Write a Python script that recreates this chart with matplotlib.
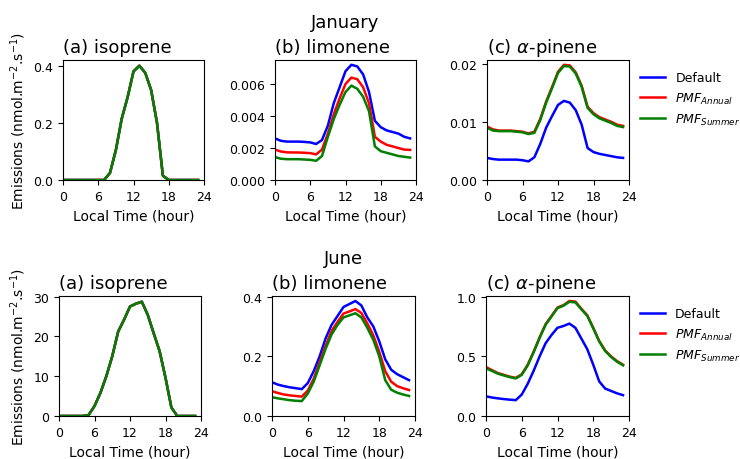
import numpy as np
import matplotlib
matplotlib.use('Agg')
import matplotlib.pyplot as plt

# Hora local (0..23)
hours = np.arange(24)

# ---------------- January ----------------
jan_iso = [0, 0, 0, 0, 0, 0, 0, 0, 0.025, 0.105, 0.215, 0.29, 0.38, 0.40,
           0.375, 0.315, 0.20, 0.015, 0, 0, 0, 0, 0, 0]

jan_lim_default = [0.0026, 0.00245, 0.0024, 0.0024, 0.0024, 0.00238, 0.00235, 0.00225,
                   0.0025, 0.0034, 0.0048, 0.0058, 0.0068, 0.0072, 0.0071, 0.0066,
                   0.0055, 0.0037, 0.0033, 0.0031, 0.0030, 0.0029, 0.0027, 0.0026]
jan_lim_annual = [0.0019, 0.00178, 0.00173, 0.00172, 0.00172, 0.0017, 0.00168, 0.0016,
                  0.0019, 0.0029, 0.0041, 0.0051, 0.0060, 0.0064, 0.0063, 0.0058,
                  0.0048, 0.0027, 0.0024, 0.0022, 0.0021, 0.0020, 0.0019, 0.00188]
jan_lim_summer = [0.00143, 0.00133, 0.0013, 0.0013, 0.0013, 0.00128, 0.00126, 0.0012,
                  0.0015, 0.0027, 0.0038, 0.0047, 0.0055, 0.0059, 0.0057, 0.0052,
                  0.0043, 0.0021, 0.0018, 0.0017, 0.0016, 0.0015, 0.00145, 0.0014]

jan_apin_default = [0.0038, 0.0036, 0.0035, 0.0035, 0.0035, 0.0035, 0.0034, 0.0032,
                    0.0039, 0.0062, 0.0090, 0.0110, 0.0129, 0.0136, 0.0133, 0.0120,
                    0.0095, 0.0055, 0.0048, 0.0045, 0.0043, 0.0041, 0.0039, 0.0038]
jan_apin_annual = [0.0092, 0.0087, 0.0085, 0.0085, 0.0085, 0.0084, 0.0083, 0.0080,
                   0.0083, 0.0105, 0.0135, 0.0160, 0.0186, 0.0198, 0.0197, 0.0185,
                   0.0162, 0.0126, 0.0115, 0.0108, 0.0104, 0.0100, 0.0095, 0.0093]
jan_apin_summer = [0.0090, 0.0085, 0.0084, 0.0084, 0.0084, 0.0083, 0.0082, 0.0079,
                   0.0081, 0.0103, 0.0133, 0.0158, 0.0184, 0.0196, 0.0195, 0.0183,
                   0.0160, 0.0124, 0.0113, 0.0106, 0.0102, 0.0098, 0.0093, 0.0091]

# ---------------- June ----------------
jun_iso = [0, 0, 0, 0, 0, 0.25, 2.5, 5.8, 10.0, 15.0, 21.2, 24.2, 27.5, 28.2,
           28.7, 25.4, 20.8, 16.3, 9.6, 2.1, 0, 0, 0, 0]

jun_lim_default = [0.113, 0.105, 0.10, 0.096, 0.093, 0.09, 0.11, 0.15, 0.20, 0.26,
                   0.305, 0.335, 0.365, 0.375, 0.385, 0.37, 0.33, 0.30, 0.25, 0.19,
                   0.155, 0.14, 0.13, 0.12]
jun_lim_annual = [0.083, 0.077, 0.072, 0.069, 0.067, 0.065, 0.085, 0.125, 0.18, 0.235,
                  0.285, 0.315, 0.343, 0.35, 0.358, 0.345, 0.31, 0.27, 0.215, 0.15,
                  0.115, 0.10, 0.093, 0.087]
jun_lim_summer = [0.063, 0.059, 0.056, 0.053, 0.051, 0.05, 0.075, 0.115, 0.17, 0.225,
                  0.273, 0.305, 0.33, 0.337, 0.344, 0.33, 0.295, 0.255, 0.20, 0.12,
                  0.088, 0.078, 0.072, 0.067]

jun_apin_default = [0.165, 0.155, 0.148, 0.142, 0.137, 0.133, 0.18, 0.27, 0.38, 0.50,
                    0.61, 0.68, 0.74, 0.755, 0.775, 0.74, 0.65, 0.56, 0.43, 0.29,
                    0.23, 0.21, 0.19, 0.175]
jun_apin_annual = [0.41, 0.385, 0.36, 0.345, 0.33, 0.32, 0.35, 0.43, 0.54, 0.66,
                   0.77, 0.84, 0.91, 0.93, 0.965, 0.96, 0.90, 0.845, 0.74, 0.63,
                   0.55, 0.50, 0.46, 0.43]
jun_apin_summer = [0.40, 0.378, 0.355, 0.34, 0.326, 0.315, 0.345, 0.425, 0.535, 0.655,
                   0.765, 0.835, 0.905, 0.925, 0.958, 0.953, 0.895, 0.84, 0.735, 0.625,
                   0.545, 0.495, 0.455, 0.425]

labels = ['Default', '$PMF_{Annual}$', '$PMF_{Summer}$']
colors = ['b', 'r', 'g']

plt.rcParams['xtick.labelsize'] = 9
plt.rcParams['ytick.labelsize'] = 9
plt.rcParams['axes.labelsize'] = 10

fig = plt.figure(figsize=(7.4, 4.6), dpi=100)


def panel(rect, series, title, ylabel=False, legend=False, month=None):
    """Dibuja un panel con las tres series (Default, PMF anual, PMF verano)."""
    ax = fig.add_axes(rect)
    for s, c, l in zip(series, colors, labels):
        ax.plot(hours, s, c + '-', lw=1.8, label=l)
    ax.set_xlim(0, 24)
    ax.set_xticks([0, 6, 12, 18, 24])
    ax.set_ylim(bottom=0)
    ax.set_xlabel('Local Time (hour)')
    ax.set_title(title, loc='left', fontsize=13)
    if month is not None:
        # mes centrado encima del titulo del panel (b)
        ax.annotate(month, xy=(0.5, 1.0), xycoords='axes fraction',
                    xytext=(0, 24), textcoords='offset points',
                    ha='center', va='baseline', fontsize=13)
    if ylabel:
        ax.set_ylabel('Emissions (nmol.m$^{-2}$.s$^{-1}$)')
    if legend:
        ax.legend(loc='upper left', bbox_to_anchor=(1.0, 1.0), frameon=False, fontsize=9)
    return ax


# Fila de enero
panel([63/740, 279/460, 141/740, 120/460], [jan_iso] * 3, '(a) isoprene', ylabel=True)
panel([275/740, 279/460, 141/740, 120/460],
      [jan_lim_default, jan_lim_annual, jan_lim_summer], '(b) limonene', month='January')
panel([487/740, 279/460, 142/740, 120/460],
      [jan_apin_default, jan_apin_annual, jan_apin_summer], r'(c) $\alpha$-pinene', legend=True)

# Fila de junio
panel([59/740, 43/460, 142/740, 120/460], [jun_iso] * 3, '(a) isoprene', ylabel=True)
panel([272/740, 43/460, 143/740, 120/460],
      [jun_lim_default, jun_lim_annual, jun_lim_summer], '(b) limonene', month='June')
panel([486/740, 43/460, 143/740, 120/460],
      [jun_apin_default, jun_apin_annual, jun_apin_summer], r'(c) $\alpha$-pinene', legend=True)

fig.savefig('out.png', dpi=100)
